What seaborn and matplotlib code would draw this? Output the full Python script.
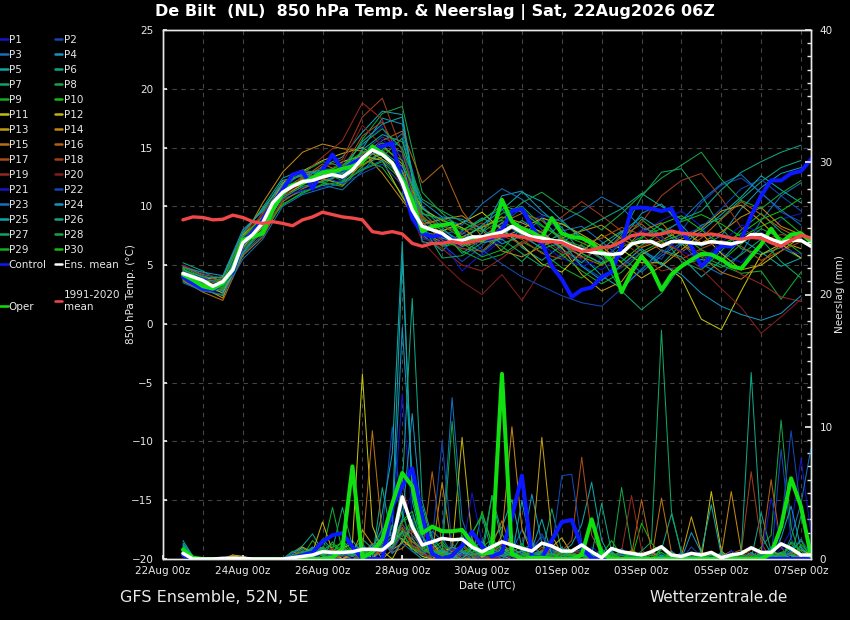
import pandas as pd
import matplotlib
matplotlib.use("Agg")
import matplotlib.pyplot as plt
import matplotlib.dates as mdates
from matplotlib.lines import Line2D
from matplotlib.ticker import MultipleLocator
import seaborn as sns

# GFS run 22Aug2026 06Z, first plotted step is 22Aug 12Z
t6 = pd.date_range("2026-08-22 12:00", periods=64, freq="6h")    # main lines and rain
t12 = pd.date_range("2026-08-22 12:00", periods=32, freq="12h")  # member temperatures

# ---- 850 hPa temperature, 6-hourly ----
ens_mean_temp = [4.3, 4.0, 3.7, 3.2, 3.6, 4.6, 6.9, 7.6,
                 8.6, 10.3, 11.2, 11.7, 12.1, 12.2, 12.5, 12.7,
                 12.5, 13.1, 14.1, 14.8, 14.4, 13.7, 12.0, 9.7,
                 8.3, 8.0, 7.7, 7.1, 7.1, 7.4, 7.4, 7.6,
                 7.8, 8.3, 7.8, 7.4, 7.3, 7.1, 7.0, 6.6,
                 6.3, 6.1, 6.0, 5.9, 6.0, 6.8, 7.0, 7.0,
                 6.6, 7.0, 7.0, 6.9, 6.8, 7.0, 6.9, 6.8,
                 7.0, 7.6, 7.6, 7.2, 6.9, 7.1, 7.1, 6.6]
control_temp = [4.0, 3.45, 3.0, 2.9, 3.45, 4.45, 6.85, 7.7,
                8.85, 10.25, 11.4, 12.7, 12.95, 11.5, 13.1, 14.4,
                13.1, 13.65, 14.1, 14.85, 15.1, 15.4, 12.0, 9.0,
                7.7, 7.4, 7.6, 7.2, 7.0, 7.1, 7.1, 7.3,
                8.0, 9.6, 9.8, 8.3, 6.9, 4.9, 3.8, 2.3,
                2.9, 3.1, 4.0, 4.4, 6.6, 9.85, 9.9, 9.8,
                9.6, 9.8, 8.0, 6.6, 4.9, 5.75, 6.6, 6.6,
                7.2, 9.2, 10.9, 12.2, 12.2, 12.8, 13.0, 14.0]
oper_temp = [4.2, 3.75, 3.2, 3.0, 3.45, 4.6, 7.15, 7.4,
             7.7, 9.7, 11.1, 11.8, 12.0, 12.4, 12.9, 12.95,
             13.2, 13.4, 13.8, 15.1, 14.5, 13.65, 12.25, 10.5,
             7.85, 8.3, 8.4, 8.55, 7.0, 7.3, 7.1, 7.6,
             10.55, 8.7, 8.1, 7.8, 7.3, 9.0, 7.7, 7.4,
             7.3, 6.9, 6.15, 5.4, 2.7, 4.4, 5.75, 4.7,
             2.9, 4.2, 4.9, 5.45, 5.95, 5.9, 5.5, 4.9,
             4.7, 5.75, 6.75, 8.1, 6.9, 7.6, 7.7, 7.0]
clim_temp = [8.85, 9.1, 9.05, 8.85, 8.9, 9.25, 9.05, 8.7,
             8.55, 8.7, 8.55, 8.35, 8.85, 9.1, 9.5, 9.3,
             9.1, 9.0, 8.85, 7.85, 7.7, 7.85, 7.65, 6.85,
             6.6, 6.85, 6.85, 7.0, 6.85, 7.0, 7.2, 7.4,
             7.5, 7.55, 7.4, 7.2, 7.0, 7.0, 6.9, 6.5,
             6.15, 6.3, 6.5, 6.6, 7.0, 7.5, 7.65, 7.55,
             7.65, 7.9, 7.7, 7.65, 7.55, 7.65, 7.5, 7.3,
             7.2, 7.35, 7.3, 6.9, 6.6, 7.1, 7.55, 7.3]

# ---- precipitation (mm), 6-hourly ----
ens_mean_rain = [0.43, 0, 0, 0, 0.05, 0.05, 0.05, 0,
                 0, 0, 0, 0.1, 0.2, 0.3, 0.55, 0.5,
                 0.5, 0.55, 0.73, 0.73, 0.68, 1.3, 4.7, 2.45,
                 1.06, 1.3, 1.56, 1.45, 1.5, 0.9, 0.55, 0.93,
                 1.3, 1.06, 0.8, 0.6, 1.2, 0.98, 0.6, 0.6,
                 1.06, 0.55, 0.1, 0.8, 0.55, 0.43, 0.3, 0.55,
                 0.93, 0.3, 0.2, 0.43, 0.3, 0.5, 0.1, 0.3,
                 0.43, 0.85, 0.5, 0.5, 1.15, 0.8, 0.3, 0.3]
control_rain = [0.3, 0, 0, 0, 0, 0, 0, 0,
                0, 0, 0, 0.1, 0.3, 0.5, 1.3, 1.8,
                1.96, 0.93, 0, 0, 0, 3.95, 5.5, 6.85,
                3.2, 0.4, 0, 0.25, 1.0, 2.06, 0.95, 0.2,
                0.5, 3.2, 6.3, 0.2, 0.1, 1.4, 2.8, 2.95,
                0.9, 0.05, 0, 0, 0, 0, 0, 0,
                0, 0, 0, 0, 0, 0, 0, 0,
                0, 0, 0, 0, 0, 0, 0, 0]
oper_rain = [0.7, 0.1, 0, 0, 0, 0, 0, 0,
             0, 0, 0, 0, 0, 0, 0, 0.1,
             0.8, 7.0, 0.1, 0.5, 1.5, 4.2, 6.5, 5.5,
             1.95, 2.45, 2.1, 2.1, 2.2, 1.2, 0.4, 0.5,
             14.0, 0.4, 0, 0.1, 0.1, 0, 0, 0,
             0.3, 3.0, 0.4, 0, 0, 0, 0, 0,
             0, 0, 0, 0, 0, 0, 0, 0,
             0, 0, 0, 0.4, 2.45, 6.1, 3.95, 0.2]

# ---- members P1..P30: temperature 12-hourly ----
p01_temp = [4.0, 3.4, 3.1, 6.2, 8.0, 11.5, 12.8, 13.0, 13.6, 15.2, 16.8, 13.1, 8.0, 7.2, 6.5, 5.8, 7.1, 8.5, 9.2, 7.8, 5.4, 4.6, 5.9, 7.7, 8.8, 9.6, 8.3, 6.1, 5.2, 6.8, 8.9, 9.4]
p02_temp = [4.6, 3.9, 3.3, 7.3, 9.1, 11.0, 11.6, 12.1, 12.9, 14.6, 15.9, 15.0, 9.1, 6.8, 5.3, 6.6, 8.4, 9.9, 8.0, 6.2, 5.0, 3.9, 4.8, 6.1, 5.5, 7.9, 10.3, 11.8, 12.4, 11.2, 9.5, 8.7]
p03_temp = [3.8, 3.0, 2.7, 5.9, 7.6, 10.6, 11.3, 11.8, 11.4, 13.0, 14.8, 16.2, 10.0, 8.5, 7.6, 8.9, 9.8, 7.4, 6.5, 7.9, 8.3, 7.0, 5.6, 4.4, 5.8, 6.9, 5.1, 4.2, 6.0, 8.8, 10.9, 12.0]
p04_temp = [4.9, 4.2, 3.9, 7.8, 9.7, 11.9, 12.7, 12.3, 12.0, 14.9, 17.5, 17.0, 8.6, 7.3, 6.8, 7.7, 10.9, 11.3, 9.6, 8.2, 6.0, 5.2, 7.1, 9.4, 10.2, 8.4, 6.6, 7.5, 9.8, 11.6, 12.8, 13.3]
p05_temp = [4.4, 3.6, 3.8, 7.0, 8.8, 11.6, 12.2, 13.4, 14.2, 16.3, 18.1, 17.8, 7.6, 6.2, 7.9, 9.0, 8.2, 6.5, 5.4, 6.7, 5.8, 4.1, 3.0, 4.6, 6.3, 5.7, 4.0, 5.4, 7.2, 6.1, 4.9, 5.6]
p06_temp = [5.2, 4.5, 3.5, 7.5, 9.9, 12.4, 13.1, 12.7, 13.3, 14.5, 15.4, 14.6, 8.8, 8.0, 7.0, 6.1, 7.5, 8.8, 7.7, 6.4, 5.2, 6.8, 7.9, 6.2, 5.0, 6.8, 8.4, 9.0, 10.6, 12.1, 13.3, 13.9]
p07_temp = [3.6, 2.9, 2.4, 6.0, 7.9, 10.9, 11.8, 12.9, 12.2, 13.6, 14.2, 15.8, 9.5, 7.9, 6.0, 7.2, 6.6, 5.3, 7.0, 8.6, 7.4, 5.8, 7.6, 10.8, 12.9, 13.2, 11.0, 8.1, 6.4, 5.9, 6.5, 5.6]
p08_temp = [4.1, 3.3, 3.0, 6.5, 8.3, 10.2, 11.1, 11.9, 12.8, 15.7, 17.9, 18.5, 11.2, 9.4, 8.1, 7.9, 9.4, 10.0, 8.4, 7.2, 6.6, 5.5, 6.8, 8.9, 7.5, 5.3, 4.6, 6.2, 8.0, 9.4, 7.8, 6.9]
p09_temp = [4.8, 4.0, 3.7, 7.1, 9.4, 11.8, 12.0, 13.2, 13.0, 14.0, 13.3, 11.0, 7.8, 7.5, 6.2, 5.4, 5.9, 7.0, 6.1, 4.8, 3.9, 5.1, 6.5, 7.4, 8.1, 7.0, 5.8, 5.0, 4.3, 4.5, 2.1, 4.4]
p10_temp = [3.9, 3.4, 3.2, 6.8, 8.4, 11.4, 12.5, 12.0, 11.7, 13.4, 14.8, 12.6, 8.9, 8.4, 7.3, 8.3, 8.8, 7.7, 6.9, 7.6, 6.9, 6.1, 5.3, 6.7, 7.8, 8.7, 9.3, 8.5, 7.4, 8.3, 9.1, 7.7]
p11_temp = [4.5, 3.8, 4.0, 7.6, 9.0, 11.1, 12.3, 12.6, 13.8, 14.3, 13.9, 10.8, 8.2, 7.9, 8.6, 9.5, 8.0, 6.7, 5.1, 4.4, 6.1, 7.6, 6.3, 5.2, 5.2, 3.9, 0.4, -0.5, 2.8, 5.9, 6.8, 5.6]
p12_temp = [4.2, 3.5, 2.6, 6.4, 8.9, 12.0, 13.0, 13.9, 14.5, 15.0, 14.0, 12.9, 9.8, 8.8, 8.2, 6.9, 7.3, 8.1, 9.0, 8.5, 7.6, 6.6, 5.2, 3.9, 4.9, 6.3, 7.7, 6.0, 4.6, 5.0, 6.2, 7.4]
p13_temp = [4.7, 3.1, 2.2, 6.6, 8.2, 10.8, 11.9, 12.4, 11.8, 13.7, 15.2, 13.6, 7.9, 6.9, 7.4, 8.2, 9.1, 8.6, 7.8, 6.5, 4.2, 2.8, 3.6, 5.9, 6.8, 7.2, 8.1, 9.6, 10.1, 8.7, 7.0, 6.4]
p14_temp = [4.0, 3.7, 3.4, 7.2, 10.3, 12.9, 14.6, 15.3, 14.9, 14.7, 12.8, 10.5, 8.5, 8.9, 9.2, 8.0, 6.2, 5.7, 6.6, 7.3, 7.9, 8.4, 7.2, 6.5, 7.1, 8.0, 6.9, 7.8, 9.1, 9.9, 8.3, 7.6]
p15_temp = [3.7, 2.7, 2.0, 5.8, 7.4, 10.4, 11.5, 12.2, 12.6, 13.5, 14.6, 13.0, 9.2, 7.6, 6.6, 7.0, 7.9, 8.3, 7.5, 6.8, 5.7, 5.0, 6.1, 7.9, 8.6, 6.8, 5.7, 4.4, 3.8, 5.2, 6.8, 7.9]
p16_temp = [4.3, 3.6, 3.0, 6.7, 8.7, 11.3, 12.4, 13.6, 12.9, 14.4, 15.6, 16.4, 12.0, 13.5, 9.6, 7.4, 8.6, 9.4, 8.8, 7.2, 6.4, 5.9, 7.4, 8.5, 7.0, 6.1, 7.3, 8.9, 10.4, 9.3, 8.1, 7.2]
p17_temp = [4.9, 4.1, 3.6, 7.4, 9.2, 11.7, 12.9, 12.3, 13.1, 16.0, 17.2, 13.8, 8.7, 7.1, 6.4, 6.2, 7.7, 7.2, 6.0, 5.5, 6.8, 7.3, 8.2, 7.6, 6.2, 5.5, 6.4, 7.1, 6.6, 5.4, 6.2, 7.0]
p18_temp = [4.4, 3.9, 3.5, 7.0, 9.5, 12.2, 12.6, 13.3, 14.0, 17.6, 19.2, 14.6, 9.0, 8.3, 7.7, 8.6, 7.5, 6.8, 7.9, 9.1, 10.4, 9.2, 7.9, 8.6, 10.9, 12.2, 12.8, 10.7, 8.2, 7.1, 7.6, 7.3]
p19_temp = [3.9, 3.2, 2.9, 6.3, 7.8, 10.5, 12.7, 14.2, 15.6, 18.8, 17.4, 12.3, 7.4, 6.4, 5.0, 4.5, 5.6, 6.9, 7.4, 6.1, 5.6, 6.4, 7.0, 5.8, 4.5, 4.9, 6.3, 5.6, 4.2, 3.4, 2.3, 1.9]
p20_temp = [5.0, 4.3, 3.8, 7.7, 9.3, 10.9, 12.0, 12.8, 13.7, 16.9, 15.1, 11.5, 7.0, 5.2, 3.6, 2.5, 4.2, 2.0, 4.6, 6.0, 6.5, 5.6, 4.8, 6.6, 7.4, 6.0, 4.7, 3.0, 1.4, -0.8, 0.6, 2.1]
p21_temp = [4.2, 3.8, 3.4, 7.3, 8.5, 10.8, 11.4, 11.6, 12.3, 13.8, 15.7, 14.2, 7.2, 7.0, 4.5, 6.0, 7.3, 7.9, 6.7, 5.6, 4.9, 5.5, 6.9, 8.0, 7.3, 6.2, 5.4, 6.9, 8.4, 7.8, 6.5, 5.9]
p22_temp = [4.5, 3.9, 3.5, 7.1, 9.0, 11.2, 12.1, 12.6, 11.9, 12.8, 13.6, 11.8, 8.1, 7.7, 7.9, 6.3, 5.1, 4.0, 3.2, 2.4, 1.8, 1.5, 3.0, 4.7, 6.0, 7.5, 8.2, 9.8, 11.5, 12.3, 10.9, 9.6]
p23_temp = [3.5, 2.8, 2.5, 5.5, 7.2, 10.0, 11.0, 11.5, 12.0, 13.2, 13.9, 12.6, 9.3, 9.0, 8.4, 10.2, 11.5, 10.6, 9.3, 8.7, 9.6, 10.8, 9.9, 8.2, 7.6, 8.8, 10.5, 11.9, 12.7, 11.1, 9.7, 8.4]
p24_temp = [4.8, 4.4, 4.1, 8.0, 9.6, 12.2, 12.6, 13.0, 12.8, 14.2, 14.7, 13.4, 10.4, 9.1, 8.9, 8.1, 6.8, 7.5, 9.0, 7.0, 4.9, 3.7, 5.0, 6.4, 5.1, 4.2, 2.6, 1.5, 0.8, 0.3, 0.9, 2.4]
p25_temp = [4.1, 3.3, 2.8, 6.1, 8.1, 11.3, 12.0, 12.4, 13.0, 15.5, 17.0, 17.6, 7.0, 6.7, 7.1, 8.4, 9.7, 11.2, 10.4, 8.8, 7.2, 6.3, 7.8, 9.1, 8.0, 6.7, 7.9, 9.3, 10.8, 12.6, 11.4, 10.3]
p26_temp = [4.6, 4.0, 3.9, 7.7, 9.8, 11.9, 12.8, 13.1, 12.4, 14.8, 16.1, 15.5, 9.9, 8.2, 6.6, 7.3, 8.6, 7.6, 6.4, 6.9, 8.0, 8.9, 9.8, 11.1, 10.0, 8.9, 9.6, 11.4, 12.9, 13.8, 14.6, 15.2]
p27_temp = [4.0, 3.5, 3.3, 6.9, 8.6, 10.7, 11.7, 12.1, 12.7, 13.9, 14.4, 13.0, 8.4, 5.6, 5.8, 6.9, 7.2, 6.0, 4.9, 5.8, 6.7, 5.6, 2.8, 1.2, 2.6, 5.0, 5.5, 4.8, 5.9, 7.2, 5.3, 3.9]
p28_temp = [4.3, 3.2, 2.9, 6.6, 8.4, 11.6, 12.9, 13.8, 13.4, 15.3, 16.6, 14.9, 10.6, 9.6, 8.7, 7.8, 8.9, 10.3, 11.2, 10.0, 9.1, 8.0, 9.4, 11.0, 12.4, 13.5, 14.6, 12.3, 10.5, 9.8, 11.1, 12.2]
p29_temp = [3.8, 3.0, 3.1, 6.4, 8.0, 10.1, 11.2, 11.8, 12.1, 13.1, 13.8, 12.2, 8.0, 6.6, 6.9, 5.7, 6.3, 8.2, 7.1, 5.9, 4.5, 3.4, 4.4, 6.1, 7.0, 7.6, 6.3, 5.3, 6.8, 8.1, 7.3, 6.0]
p30_temp = [4.7, 3.7, 3.6, 7.4, 9.1, 11.1, 12.2, 12.9, 13.5, 14.6, 15.0, 13.9, 9.4, 8.9, 8.0, 8.8, 10.1, 9.5, 8.3, 7.4, 6.0, 5.1, 5.9, 7.3, 8.5, 9.2, 8.0, 6.7, 7.7, 8.9, 9.6, 10.7]

# ---- members P1..P30: rain 6-hourly ----
p01_rain = [0.5, 0, 0, 0, 0, 0, 0, 0, 0, 0, 0, 0.2, 0.4, 0.8, 0.3, 0, 0, 0.6, 1.2, 0, 0.5, 1.8, 3.1, 5.0, 1.4, 0.6, 0.3, 0, 0.9, 1.6, 0.4, 0,
            0.8, 1.9, 0.6, 0, 0.4, 0, 0.2, 0, 0, 0.9, 0.3, 0, 0, 0.4, 0, 0, 0, 0.3, 0, 0, 0.6, 0, 0, 0.2, 0, 0.4, 0, 0, 0.8, 2.2, 7.6, 1.9]
p02_rain = [0.8, 0.1, 0, 0, 0, 0, 0, 0, 0, 0, 0, 0, 0, 0.6, 1.3, 0.5, 0, 0, 0, 0.4, 2.2, 10.0, 3.4, 1.1, 0.6, 0, 0, 1.2, 0.3, 0, 0, 0.5,
            1.1, 0.4, 0, 0.8, 1.7, 0.6, 0, 0, 0.3, 0, 0, 0.5, 0, 0, 0.2, 0, 0, 0, 0, 0.9, 0.2, 0, 0, 0, 0, 0, 0.6, 0, 8.3, 1.5, 0.4, 0]
p03_rain = [0.3, 0, 0, 0, 0.1, 0, 0, 0, 0, 0, 0, 0.3, 0, 0, 0.9, 0.4, 0.2, 0.8, 0, 0, 0.7, 1.5, 2.6, 1.8, 0.9, 2.1, 1.4, 12.2, 3.0, 0.8, 0, 0.4,
            0, 0.6, 2.2, 1.0, 0.3, 0, 0, 0.5, 0.7, 0, 0, 0, 0.3, 0, 0, 0.6, 0.2, 0, 0, 0, 0, 0.4, 0, 0, 0, 0.3, 0, 0.9, 0, 1.6, 4.2, 8.4]
p04_rain = [1.1, 0, 0, 0, 0, 0, 0, 0, 0, 0, 0, 0, 0.5, 0.3, 0, 0, 0.9, 1.4, 0.4, 0, 0.8, 2.4, 17.5, 6.1, 1.8, 0.5, 0, 0.9, 0, 0.3, 0, 0,
            0.2, 0, 0.6, 4.9, 1.2, 0, 0, 0.3, 0, 0, 0.4, 0, 0.8, 0, 0, 0, 0, 0.6, 0, 2.0, 0.5, 0, 0, 0.3, 0, 0, 0, 0, 0.2, 0.7, 0, 0]
p05_rain = [0.6, 0, 0, 0, 0, 0, 0, 0, 0, 0, 0, 0.4, 0, 0.7, 0.2, 0, 0, 0.5, 1.1, 0.3, 3.5, 8.0, 24.0, 4.4, 1.2, 0, 0.6, 0, 0.4, 0.9, 0, 1.5,
            2.4, 4.5, 0.8, 0, 0.3, 0, 0.5, 1.1, 2.6, 5.8, 1.4, 0, 0, 0.2, 0, 0, 0, 0, 0.4, 0, 0, 0, 0.3, 0, 0, 0, 0.5, 0, 0, 0.4, 0.9, 0.2]
p06_rain = [1.4, 0.2, 0, 0, 0, 0.2, 0, 0, 0, 0, 0, 0.5, 1.0, 1.9, 0.6, 0, 0.3, 0, 0.8, 0, 5.4, 1.3, 2.0, 0.6, 0, 0.4, 1.1, 0.3, 0, 0, 0.7, 4.8,
            1.2, 0.3, 0, 0.5, 0, 0.9, 0.4, 0, 0, 0, 0.6, 0, 0.3, 0, 0, 0, 0.7, 3.4, 0.5, 0, 0, 0.3, 0, 0, 0, 0, 3.5, 0.6, 0, 0, 3.3, 0.8]
p07_rain = [0.9, 0, 0, 0, 0, 0, 0, 0, 0, 0, 0, 0.2, 0.8, 0.4, 1.5, 0.7, 3.9, 1.0, 0.3, 0.6, 0.4, 1.2, 4.5, 2.0, 4.0, 1.3, 0.5, 0, 0, 0.8, 0.2, 0,
            0.4, 0, 0.7, 1.1, 0.3, 3.8, 0.6, 0, 0, 0, 0.2, 0.5, 0, 0, 0.4, 0, 0, 0, 0.3, 0, 0.5, 0, 0, 0, 0.2, 0, 0, 0, 0.3, 1.2, 0, 0]
p08_rain = [0.4, 0, 0, 0, 0, 0, 0, 0, 0, 0, 0, 0, 0.3, 0.9, 0.2, 1.3, 0.4, 0, 0.2, 0.8, 1.6, 0.7, 2.8, 3.3, 1.1, 0.2, 0, 0.6, 1.8, 0.4, 0, 4.8,
            1.9, 0.6, 0, 0, 0.3, 0.2, 0, 0, 0.5, 0, 0, 0, 5.4, 0.8, 0, 0.3, 0, 0, 0, 0.4, 0, 0, 0, 0.6, 0, 0, 0.9, 1.8, 10.5, 2.4, 0, 0]
p09_rain = [0.2, 0, 0, 0, 0, 0, 0, 0, 0, 0, 0, 0.6, 0.2, 1.4, 0.5, 3.9, 0.6, 0.2, 0, 0.5, 1.0, 1.7, 3.6, 0.9, 0.5, 0, 0.8, 0.3, 0, 0.9, 0.3, 0,
            0.6, 0.9, 0.2, 0, 0, 0.7, 0.3, 0, 0.4, 0.2, 0, 0, 0.6, 0, 0, 0, 0.8, 0, 0, 0, 0, 0.4, 0, 0, 0, 0, 0, 0.3, 0.5, 0.8, 0, 0.3]
p10_rain = [0.7, 0, 0, 0, 0, 0, 0, 0, 0, 0, 0, 0, 0.5, 0.3, 0, 0.9, 1.2, 0.4, 0, 0.6, 1.0, 2.5, 1.7, 3.0, 0.6, 0.8, 1.3, 0.4, 0, 0, 3.6, 1.1,
            0.5, 0.3, 1.2, 0, 0, 0.4, 0, 0.2, 0, 0, 0.3, 1.4, 0.2, 0, 2.7, 1.2, 0.3, 0, 0, 0, 0.2, 0, 0, 0, 0, 0.2, 0, 0, 0, 0.5, 1.4, 0]
p11_rain = [0.6, 0, 0, 0, 0, 0.3, 0.2, 0, 0, 0, 0, 0, 0.3, 0.6, 0, 0.4, 0.8, 1.2, 14.0, 2.5, 0.6, 0, 1.4, 0.8, 0.2, 0, 0.5, 0.9, 0, 0, 0.4, 0,
            0.9, 0.3, 0, 0, 0.6, 0, 0, 0.3, 0, 0.4, 0, 0.2, 0, 0, 0, 0.5, 0, 0, 0, 0, 0, 5.1, 0.6, 0, 0, 0, 0.3, 0, 0, 0, 0.2, 0.6]
p12_rain = [0.3, 0, 0, 0, 0.1, 0.2, 0, 0, 0, 0, 0, 0.4, 0.9, 0.5, 2.8, 0.6, 0, 0.3, 0.9, 0, 1.1, 2.0, 1.5, 0.8, 0.4, 1.2, 0.3, 0.6, 9.2, 1.5, 0, 0.2,
            0.3, 0, 0.5, 0, 0, 0.9, 1.6, 0.4, 0, 0, 0.2, 0, 0, 0.3, 0, 0, 0, 0, 0, 0.5, 0, 0, 0.4, 0, 0, 0, 0, 0.6, 0.3, 0, 0.7, 0.3]
p13_rain = [0.8, 0, 0, 0, 0, 0.2, 0.1, 0, 0, 0, 0, 0, 0.2, 0.7, 0.3, 0, 0.5, 0.4, 2.2, 1.1, 0, 0.7, 1.2, 2.6, 0.9, 0.3, 0, 0.2, 0.5, 0, 0.2, 0,
            0.4, 0.8, 0.3, 0.5, 9.2, 1.8, 0.4, 0, 0.2, 0, 0, 0.4, 0, 0.6, 0, 0, 0, 0.4, 0.2, 3.2, 0.5, 0, 0, 0, 0.4, 0, 0, 0.2, 0, 0.3, 0, 0]
p14_rain = [0.5, 0, 0, 0, 0, 0.3, 0, 0, 0, 0, 0, 0.2, 0, 0.4, 0.9, 0.3, 0, 0.6, 0.4, 0.9, 1.5, 0.6, 2.1, 1.3, 0.7, 0.4, 5.8, 0.6, 1.0, 0.3, 0, 0.4,
            1.8, 10.0, 2.3, 0.4, 0, 0.2, 0, 0.7, 0.4, 0, 0.3, 0, 0, 0, 0.5, 0, 0, 0, 0, 0.4, 0.2, 0, 0.3, 5.1, 0.6, 0, 0, 0, 0.4, 0, 0, 0]
p15_rain = [0.4, 0.1, 0, 0, 0, 0, 0, 0, 0, 0, 0, 0, 0.4, 0, 0.6, 0.2, 0.9, 0.3, 0.5, 9.7, 1.8, 0.5, 0.8, 1.6, 0.3, 0.9, 0.4, 0, 0.6, 0.2, 0.5, 1.0,
            2.9, 0.6, 0, 0.3, 0.2, 0, 0.4, 0, 0, 0.3, 0, 0, 0, 0.7, 0.2, 0, 4.6, 0.5, 0, 0, 0, 0, 0.2, 0.6, 0, 0, 0.3, 0, 0, 0, 0, 0.4]
p16_rain = [0.2, 0, 0, 0, 0, 0, 0, 0, 0, 0, 0, 0.3, 0.6, 0.2, 0, 0.8, 0.4, 0, 0.7, 0.3, 0.5, 1.3, 2.4, 1.0, 0.6, 6.6, 0.9, 0.2, 0, 0.5, 0.3, 0,
            0.6, 0, 0.4, 0, 0.7, 0.2, 0, 0.3, 0, 0, 0, 0.4, 0, 0.3, 4.5, 0.6, 0, 0, 0.3, 0, 0, 0, 0, 0.4, 0.7, 0.3, 0.5, 6.0, 0.9, 0, 0, 0.3]
p17_rain = [0.6, 0, 0, 0, 0, 0, 0, 0, 0, 0, 0, 0.2, 0, 0.3, 0.7, 0, 0.3, 0.8, 0.4, 1.2, 0.9, 0.7, 1.9, 2.2, 0.5, 0, 0.3, 0.9, 0.6, 0, 0.3, 0.4,
            1.1, 0.6, 0, 0.2, 0.9, 0.3, 0.6, 1.4, 7.7, 1.8, 0.4, 0, 0, 0, 0.3, 0, 0, 0.2, 0, 0, 0.4, 0, 0, 0, 0, 0.3, 0, 0, 0, 0.5, 0, 0]
p18_rain = [0.3, 0, 0, 0, 0, 0, 0, 0, 0, 0, 0, 0, 0.4, 0.2, 0.5, 0.3, 0.6, 0.2, 0, 0.4, 1.3, 0.7, 6.0, 1.6, 0.4, 0.9, 0.2, 0, 0.3, 0.6, 0, 0.2,
            0, 0.5, 0.3, 0, 0.2, 0.8, 0.4, 0, 0.3, 0, 0.5, 0, 0, 0.2, 0, 0.4, 0, 0, 0, 0, 0.2, 0, 0.3, 0, 0.5, 6.6, 1.2, 0, 0.3, 0, 0, 0.2]
p19_rain = [0.9, 0.1, 0, 0, 0, 0, 0, 0, 0, 0, 0, 0, 0.2, 0.6, 0.3, 0.4, 0.2, 0.5, 0.3, 0.7, 0.4, 1.5, 2.7, 0.9, 0.3, 0.2, 0.8, 0.4, 1.1, 0.3, 0, 0,
            0.5, 0.3, 0.6, 0.2, 0, 0.4, 0.3, 0.7, 0.4, 0.2, 0, 0, 0.6, 4.8, 0.7, 0, 0.2, 0, 0, 0.3, 0, 0, 0, 0, 0.2, 0, 0, 0.5, 0, 0.4, 0.3, 0]
p20_rain = [0.4, 0, 0, 0, 0, 0, 0, 0, 0, 0, 0, 0.3, 0, 0.2, 0.4, 0.8, 0.3, 0.6, 0.9, 0.4, 0.7, 1.2, 1.8, 2.5, 0.6, 0.3, 0.2, 0.7, 0, 0.4, 0.5, 0,
            0.2, 0.7, 0.3, 0, 0.5, 0.2, 0, 0.4, 0.6, 0.3, 0.4, 0, 0.2, 0, 0, 0.3, 0, 0, 0.2, 0, 0, 0.4, 0, 0, 0, 0.7, 0.4, 0.2, 0, 0, 0, 0]
p21_rain = [0.5, 0, 0, 0, 0, 0, 0, 0, 0, 0, 0, 0.4, 0.2, 0, 0.5, 0.3, 0.6, 0, 1.0, 0.4, 0.9, 2.0, 12.5, 3.1, 1.4, 0.6, 0, 0.8, 0.4, 5.0, 1.2, 0.3,
            0.4, 0, 0.5, 0.9, 0.3, 0, 0, 0.2, 0, 0.5, 0, 0, 0.3, 0, 0, 0, 0.4, 0, 0, 0.2, 0, 0, 0, 0.6, 0.3, 0.9, 0, 4.6, 1.0, 0, 0, 0]
p22_rain = [0.7, 0, 0, 0, 0, 0, 0, 0, 0, 0, 0, 0, 0.3, 0.5, 0, 0.6, 0.2, 0.4, 0.8, 0.3, 1.1, 0.6, 1.9, 2.4, 0.5, 1.3, 8.9, 0.9, 0.2, 0.6, 0, 0.4,
            0.8, 0.3, 0.7, 0.5, 1.9, 0.6, 6.3, 6.4, 1.2, 0.3, 0, 0, 0.4, 0, 0.2, 0, 0, 0, 0.3, 0, 0, 0.2, 0, 0, 0, 0, 0.3, 0.8, 2.4, 9.7, 3.5, 1.0]
p23_rain = [0.2, 0, 0, 0, 0, 0, 0, 0, 0, 0, 0, 0.5, 0.7, 0.2, 0, 0.4, 0.8, 0.3, 0.5, 0.9, 1.4, 0.4, 1.2, 0.6, 0.3, 0.9, 1.6, 0.4, 0.6, 0, 0.3, 0.5,
            0, 0.6, 0.2, 1.4, 0, 0.5, 0.8, 0, 0.3, 0.4, 0, 0.6, 0, 0.2, 0, 0.3, 0, 0, 0.5, 0, 0.2, 0, 0, 0, 0, 0.4, 0, 0.3, 0, 0.6, 1.5, 0.3]
p24_rain = [1.2, 0.2, 0, 0, 0, 0, 0, 0, 0, 0, 0, 0, 0.4, 0.9, 0.3, 0, 0.5, 0.2, 0.6, 0.3, 1.8, 0.8, 3.0, 11.0, 2.6, 0.4, 0.7, 0, 0.5, 0.3, 0.6, 0.2,
            0.3, 0.8, 0.4, 0, 0.6, 0.2, 0.5, 0.3, 0.4, 0, 0.8, 0, 0, 0.5, 0, 0, 0.2, 0, 0, 0, 0, 0.3, 0, 0, 0, 0, 0.4, 0, 1.6, 4.0, 0.8, 0]
p25_rain = [0.8, 0, 0, 0, 0, 0, 0, 0, 0, 0, 0, 0.3, 0, 0.4, 0.8, 0.3, 0.7, 0.4, 0.2, 1.1, 0.6, 3.2, 22.8, 5.2, 1.7, 0.3, 0.6, 0.2, 0, 0.8, 1.3, 0.4,
            0.6, 0.2, 4.4, 0.7, 3.0, 0.3, 0.9, 0, 0.5, 0.6, 0, 0.3, 0, 0, 0.4, 0, 0, 0.2, 0, 0, 0.6, 4.1, 0.3, 0, 0, 0, 0.2, 0, 0.5, 0, 0, 0.3]
p26_rain = [1.0, 0.2, 0, 0, 0, 0, 0, 0, 0, 0, 0, 0.2, 0.4, 0.7, 0.5, 0.3, 0.3, 0.6, 1.5, 0.8, 2.3, 1.7, 5.5, 19.7, 4.4, 1.6, 0.7, 0.3, 0.8, 2.0, 3.2, 0.6,
            0.2, 0.4, 0, 0.3, 0.5, 0, 0.2, 0.6, 0.9, 0.3, 4.2, 0.5, 0, 0.3, 0, 0, 0.3, 0, 0, 0.2, 0, 0, 0.5, 0, 0.4, 14.1, 1.8, 0.4, 0, 0.3, 0, 0]
p27_rain = [0.6, 0, 0, 0, 0, 0, 0, 0, 0, 0, 0, 0.3, 0.2, 0.8, 0.4, 0.6, 1.0, 0.3, 0.8, 0.5, 1.2, 0.9, 2.2, 1.5, 0.7, 0.4, 0.2, 0.9, 0.6, 0.3, 0.5, 0.8,
            0.4, 0.3, 0.6, 0, 0.3, 0.4, 0, 0.5, 0.2, 0, 0.6, 0, 0.3, 0, 0.6, 1.3, 17.3, 3.6, 0.4, 0, 0.3, 0, 0, 0.2, 0, 0.5, 0, 0, 0.3, 0.4, 0, 0.2]
p28_rain = [0.3, 0, 0, 0, 0, 0, 0, 0, 0, 0, 0, 0, 0.6, 0.3, 0.9, 0.5, 0.6, 0.2, 0.9, 0.7, 1.5, 2.6, 1.3, 2.8, 0.9, 0.3, 0.5, 10.4, 1.2, 0.4, 0.3, 0.7,
            0.5, 0.2, 0.3, 0.4, 0.6, 0, 0.3, 0, 0, 0.4, 0.2, 0, 0.5, 0, 0, 0.3, 0, 0.5, 0, 0, 0, 0, 0.2, 0.4, 0.3, 0, 0, 0.5, 0.3, 0.9, 0.4, 0]
p29_rain = [0.5, 0, 0, 0, 0, 0, 0, 0, 0, 0, 0, 0.2, 0.5, 0.3, 0.7, 1.1, 0.4, 0.9, 0.3, 0.6, 0.9, 1.1, 2.0, 0.8, 0.5, 0.7, 0.3, 0.4, 0.8, 1.9, 3.4, 1.2,
            0.7, 0.4, 0.2, 0.5, 0, 0.3, 0.4, 0.2, 0, 0.3, 0, 0.2, 0.6, 0.2, 0, 0, 0, 0, 0.3, 0, 0.3, 0, 0, 0, 0.2, 0, 0.3, 0, 0, 1.3, 0.6, 0]
p30_rain = [0.9, 0.1, 0, 0, 0, 0, 0, 0, 0, 0, 0, 0.3, 0.4, 0.7, 0.3, 0.5, 1.4, 0.6, 0.4, 0.8, 0.5, 1.5, 2.9, 3.6, 1.1, 0.7, 0.4, 0.2, 0.7, 0.5, 0.9, 1.5,
            0.8, 0.3, 0.6, 0.2, 0.4, 0, 0.6, 0.3, 0.3, 0, 0.2, 0.4, 0, 0.5, 0.3, 0, 0.5, 0, 0.2, 0, 0, 0.3, 0, 0.2, 0, 0, 0.5, 0.2, 0.4, 0, 1.1, 0.3]

member_temps = [p01_temp, p02_temp, p03_temp, p04_temp, p05_temp, p06_temp, p07_temp, p08_temp, p09_temp, p10_temp,
                p11_temp, p12_temp, p13_temp, p14_temp, p15_temp, p16_temp, p17_temp, p18_temp, p19_temp, p20_temp,
                p21_temp, p22_temp, p23_temp, p24_temp, p25_temp, p26_temp, p27_temp, p28_temp, p29_temp, p30_temp]
member_rains = [p01_rain, p02_rain, p03_rain, p04_rain, p05_rain, p06_rain, p07_rain, p08_rain, p09_rain, p10_rain,
                p11_rain, p12_rain, p13_rain, p14_rain, p15_rain, p16_rain, p17_rain, p18_rain, p19_rain, p20_rain,
                p21_rain, p22_rain, p23_rain, p24_rain, p25_rain, p26_rain, p27_rain, p28_rain, p29_rain, p30_rain]
member_names = ["P%d" % k for k in range(1, 31)]

# member colours: blue -> green -> yellow -> red, P21..P30 repeat P1..P10
base_cols = ["#1414c8", "#1446b4", "#1470bc", "#1494c0", "#10a4a8", "#10a484", "#10a464", "#14a444", "#10ac28", "#10bc10",
             "#c0c010", "#c0b010", "#c09c10", "#c08810", "#b87014", "#b06014", "#a84c18", "#a03c1c", "#942820", "#841c1c"]
member_cols = base_cols + base_cols[:10]
pal = dict(zip(member_names, member_cols))

control_col = "#0c18ff"
oper_col = "#10e010"
mean_col = "#ffffff"
clim_col = "#f04848"
fg = "#e8e8e8"

sns.set_theme(style="ticks", rc={"axes.facecolor": "black", "figure.facecolor": "black",
                                 "axes.edgecolor": fg, "text.color": fg, "axes.labelcolor": fg,
                                 "xtick.color": fg, "ytick.color": fg})
plt.rcParams["font.family"] = ["DejaVu Sans"]

fig = plt.figure(figsize=(8.5, 6.2), dpi=100)
ax = fig.add_axes([163 / 850, 61 / 620, 648 / 850, 529 / 620])
ax2 = ax.twinx()

df_t = pd.concat([pd.DataFrame({"time": t12, "temp": v, "member": n})
                  for n, v in zip(member_names, member_temps)], ignore_index=True)
df_r = pd.concat([pd.DataFrame({"time": t6, "rain": v, "member": n})
                  for n, v in zip(member_names, member_rains)], ignore_index=True)

# temperature
sns.lineplot(data=df_t, x="time", y="temp", hue="member", palette=pal, hue_order=member_names,
             estimator=None, lw=0.75, legend=False, ax=ax)
sns.lineplot(x=t6, y=control_temp, color=control_col, lw=2.9, ax=ax)
sns.lineplot(x=t6, y=oper_temp, color=oper_col, lw=2.9, ax=ax)
sns.lineplot(x=t6, y=ens_mean_temp, color=mean_col, lw=2.5, ax=ax)
sns.lineplot(x=t6, y=clim_temp, color=clim_col, lw=2.4, ax=ax)

# precipitation
sns.lineplot(data=df_r, x="time", y="rain", hue="member", palette=pal, hue_order=member_names,
             estimator=None, lw=0.75, legend=False, ax=ax2)
sns.lineplot(x=t6, y=control_rain, color=control_col, lw=2.9, ax=ax2)
sns.lineplot(x=t6, y=oper_rain, color=oper_col, lw=2.9, ax=ax2)
sns.lineplot(x=t6, y=ens_mean_rain, color=mean_col, lw=2.5, ax=ax2)

ax.set_xlim(pd.Timestamp("2026-08-22 00:00"), pd.Timestamp("2026-09-07 06:00"))
ax.set_ylim(-20, 25)
ax2.set_ylim(0, 40)

ax.set_xticks(pd.date_range("2026-08-22", "2026-09-07", freq="2D"))
ax.set_xticks(pd.date_range("2026-08-22", "2026-09-07", freq="1D"), minor=True)
ax.xaxis.set_major_formatter(mdates.DateFormatter("%d%b %Hz"))
ax.yaxis.set_major_locator(MultipleLocator(5))
ax2.yaxis.set_major_locator(MultipleLocator(10))
ax2.yaxis.set_minor_locator(MultipleLocator(1))

grid_kw = dict(color="#444444", ls=(0, (4, 4)), lw=0.8)
ax.grid(True, which="both", axis="x", **grid_kw)
ax.grid(True, which="major", axis="y", **grid_kw)
ax2.grid(False)

ax.tick_params(axis="x", which="major", direction="in", length=3, pad=5, labelsize=7.5, colors=fg)
ax.tick_params(axis="x", which="minor", length=0)
ax.tick_params(axis="y", direction="in", length=3, pad=7, labelsize=7.5, colors=fg)
ax2.tick_params(axis="y", which="major", direction="in", length=4, pad=6, labelsize=7.5, colors=fg)
ax2.tick_params(axis="y", which="minor", direction="in", length=3, colors=fg)

for a in (ax, ax2):
    for s in a.spines.values():
        s.set_color(fg)
        s.set_linewidth(1.0)

ax.set_xlabel("Date (UTC)", fontsize=7.5, labelpad=3)
ax.set_ylabel("850 hPa Temp. (°C)", fontsize=7.5)
ax.yaxis.set_label_coords(-0.041, 0.5)
ax2.set_ylabel("Neerslag (mm)", fontsize=7.5)
ax2.yaxis.set_label_coords(1.037, 0.5)

# legend on the left, two columns (P1 | P2 per row)
def handle(c):
    return Line2D([], [], color=c, lw=1.8)

blank = Line2D([], [], color="none")
col1 = [(handle(member_cols[k]), member_names[k]) for k in range(0, 30, 2)]
col1 += [(handle(control_col), "Control"), (blank, " \n "), (handle(oper_col), "Oper")]
col2 = [(handle(member_cols[k]), member_names[k]) for k in range(1, 30, 2)]
col2 += [(handle(mean_col), "Ens. mean"), (blank, " "), (handle(clim_col), "1991-2020\nmean")]
handles, labels = zip(*(col1 + col2))
fig.legend(handles, labels, ncol=2, loc="upper left", bbox_to_anchor=(0, 1 - 35 / 620),
           frameon=False, fontsize=7.5, handlelength=0.75, handletextpad=0.1,
           columnspacing=0.75, labelspacing=0.48, borderpad=0, borderaxespad=0, labelcolor=fg)

fig.text(435 / 850, 1 - 12 / 620, "De Bilt  (NL)  850 hPa Temp. & Neerslag | Sat, 22Aug2026 06Z",
         ha="center", va="center", fontsize=11.5, fontweight="bold", color="white")
fig.text(120 / 850, 1 - 598 / 620, "GFS Ensemble, 52N, 5E", ha="left", va="center", fontsize=11.5, color=fg)
fig.text(650 / 850, 1 - 598 / 620, "Wetterzentrale.de", ha="left", va="center", fontsize=11, color=fg)

fig.savefig("out.png", dpi=100, facecolor="black")
